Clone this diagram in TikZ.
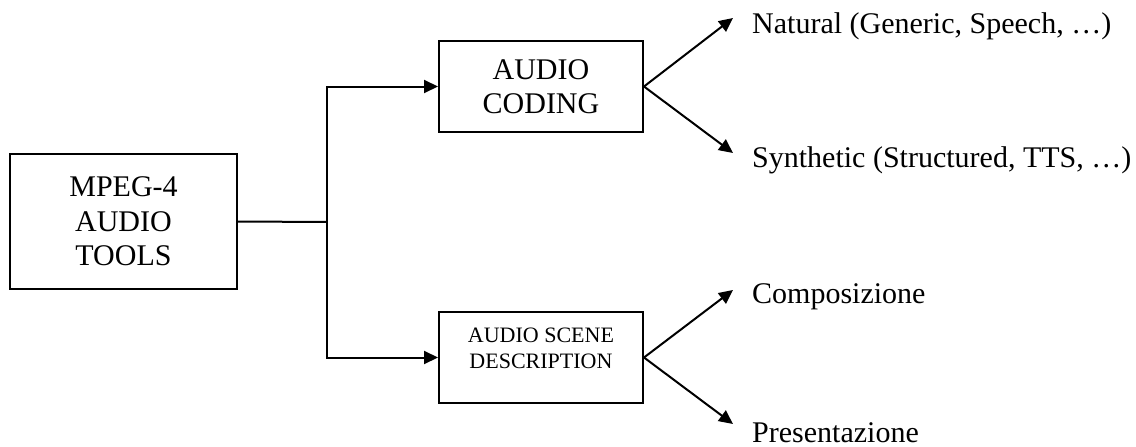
\documentclass[tikz,border=0pt]{standalone}
\usepackage{fontspec}
\setmainfont{Liberation Serif}
\usetikzlibrary{arrows.meta}

\begin{document}
\begin{tikzpicture}[x=1pt,y=-1pt,
  box/.style={draw,line width=2pt,inner sep=0pt,align=center,font=\fontsize{30}{34.5}\selectfont},
  link/.style={line width=2pt,-{Triangle[length=14pt,width=13pt]}},
  leaf/.style={anchor=base west,inner sep=0pt,font=\fontsize{30}{34.5}\selectfont}]
\useasboundingbox (0,0) rectangle (1136,447);
\node[box,minimum width=227pt,minimum height=135pt] (mpeg) at (123.5,221.5) {MPEG-4\\AUDIO\\TOOLS};
\node[box,minimum width=204pt,minimum height=91pt] (coding) at (541,86.5) {AUDIO\\CODING};
\node[box,minimum width=204pt,minimum height=91pt,text depth=18pt,
  font=\fontsize{22}{26}\selectfont] (scene) at (541,357.5) {AUDIO SCENE\\DESCRIPTION};
\coordinate (junc) at (327,222);
\coordinate (natTip) at (733,18);
\coordinate (synTip) at (733,153);
\coordinate (comTip) at (733,290);
\coordinate (preTip) at (733,424);
\node[leaf] (nat) at (752,33) {Natural (Generic, Speech, …)};
\node[leaf] (syn) at (752,167) {Synthetic (Structured, TTS, …)};
\node[leaf] (com) at (752,303) {Composizione};
\node[leaf] (pre) at (752,442) {Presentazione};
\draw[line width=2pt] (mpeg.east) -- (junc);
\draw[link] (junc) |- (coding.west);
\draw[link] (junc) |- (scene.west);
\draw[link] (coding.east) -- (natTip);
\draw[link] (coding.east) -- (synTip);
\draw[link] (scene.east) -- (comTip);
\draw[link] (scene.east) -- (preTip);
\end{tikzpicture}
\end{document}
